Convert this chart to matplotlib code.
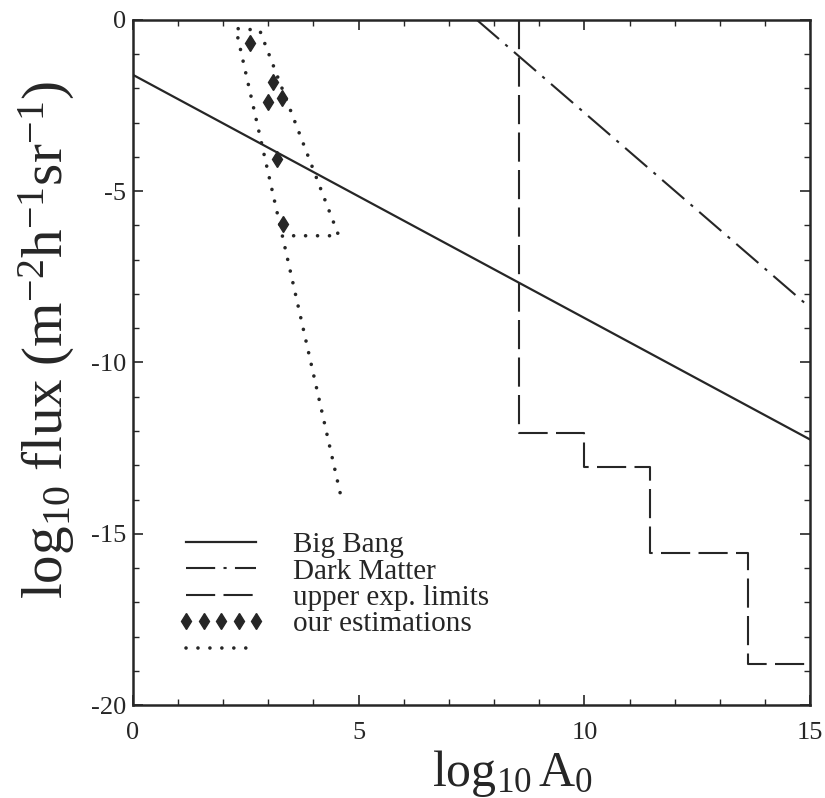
import numpy as np
import matplotlib
matplotlib.use("Agg")
import matplotlib.pyplot as plt
from matplotlib.ticker import MultipleLocator

plt.rcParams['font.family'] = ['Liberation Serif', 'DejaVu Serif']
plt.rcParams['mathtext.fontset'] = 'custom'
plt.rcParams['mathtext.rm'] = 'Liberation Serif'
plt.rcParams['mathtext.it'] = 'Liberation Serif:italic'
plt.rcParams['axes.unicode_minus'] = False

# data
bigbang_x = [0, 15]
bigbang_y = [-1.6, -12.25]

darkmatter_x = [7.62, 15]
darkmatter_y = [0, -8.4]

# upper experimental limits (step edges and levels)
limits_x = [8.55, 8.55, 10.0, 11.45, 13.63, 15.0]
limits_y = [0, -12.05, -13.05, -15.55, -18.8, -18.8]

# our estimations
est_x = [2.59, 3.10, 2.99, 3.30, 3.19, 3.32]
est_y = [-0.67, -1.81, -2.39, -2.28, -4.06, -5.96]

# dotted boundary around estimations
bound_x = [4.59, 2.28, 2.81, 4.56, 3.37]
bound_y = [-13.8, -0.25, -0.3, -6.3, -6.3]

labels = ['Big Bang', 'Dark Matter', 'upper exp. limits', 'our estimations', ' ']

ink = '#262626'

fig = plt.figure(figsize=(8.25, 7.98), dpi=100)
ax = fig.add_axes([0.161, 0.1165, 0.821, 0.8585])

l1, = ax.plot(bigbang_x, bigbang_y, color=ink, lw=1.6)
l2, = ax.plot(darkmatter_x, darkmatter_y, color=ink, lw=1.5,
              dashes=(14, 4, 1.5, 4))
l3, = ax.step(limits_x, limits_y, where='post', color=ink, lw=1.5,
              dashes=(14, 4))
l4, = ax.plot(est_x, est_y, ls='none', marker='d', ms=8, color=ink)
l5, = ax.plot(bound_x, bound_y, color=ink, lw=2.6,
              dashes=(0.01, 3.3), dash_capstyle='round')

ax.set_xlim(0, 15)
ax.set_ylim(-20, 0)

ax.xaxis.set_major_locator(MultipleLocator(5))
ax.xaxis.set_minor_locator(MultipleLocator(1))
ax.yaxis.set_major_locator(MultipleLocator(5))
ax.yaxis.set_minor_locator(MultipleLocator(1))
ax.tick_params(which='both', direction='in', top=True, right=True,
               color=ink, labelcolor=ink)
ax.tick_params(which='major', length=7, width=1.2, labelsize=19)
ax.tick_params(which='minor', length=4, width=1.0)
ax.tick_params(axis='x', which='major', pad=12)
ax.tick_params(axis='y', which='major', pad=5)
for s in ax.spines.values():
    s.set_color(ink)
    s.set_linewidth(1.8)

ax.set_xlabel(r'$\mathregular{log_{10}\,A_0}$', fontsize=36, color=ink)
ax.set_ylabel(r'$\mathregular{log_{10}\ flux\ (m^{-2}h^{-1}sr^{-1})}$',
              fontsize=41, color=ink)
ax.xaxis.set_label_coords(0.56, -0.062)
ax.yaxis.set_label_coords(-0.083, 0.533)

ax.legend([l1, l2, l3, l4, l5], labels,
          loc='upper left', bbox_to_anchor=(0.066, 0.253), frameon=False,
          fontsize=21, labelspacing=0.0, handlelength=3.0,
          handletextpad=0.95, borderpad=0, borderaxespad=0, numpoints=5,
          labelcolor=ink)

fig.savefig('out.png', dpi=100)
